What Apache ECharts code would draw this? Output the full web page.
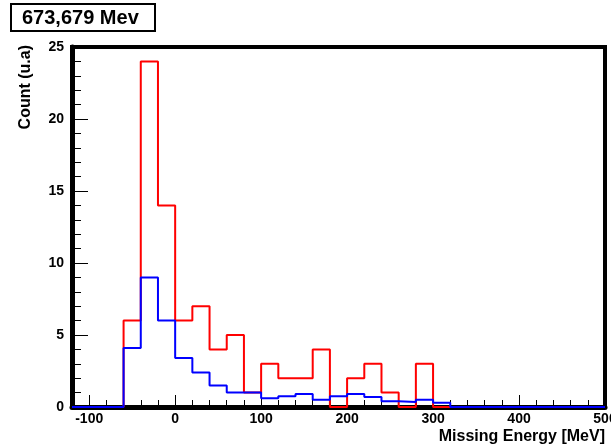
<!DOCTYPE html>
<html>
<head>
<meta charset="utf-8">
<script src="https://cdn.jsdelivr.net/npm/echarts@6/dist/echarts.min.js"></script>
<style>html,body{margin:0;padding:0;background:#fff}#c{width:611px;height:448px}</style>
</head>
<body>
<div id="c"></div>
<script>
// Bin lower edges (MeV), bin width 20
var binLow = [-120,-100,-80,-60,-40,-20,0,20,40,60,80,100,120,140,160,180,200,220,240,260,280,300,320,340,360,380,400,420,440,460,480];
var binHighLast = 500;
var redCounts  = [0,0,0,6,24,14,6,7,4,5,1,3,2,2,4,0,2,3,1,0,3,0,0,0,0,0,0,0,0,0,0];
var blueCounts = [0,0,0,4.1,9,6,3.4,2.4,1.5,1,1,0.6,0.75,0.9,0.5,0.75,0.9,0.7,0.4,0.35,0.5,0.3,0,0,0,0,0,0,0,0,0];
var xMajorTicks = [-100,0,100,200,300,400,500];
var titleText = '673,679 Mev';
var xTitle = 'Missing Energy [MeV]';
var yTitle = 'Count (u.a)';

function steps(vals){
  var d = binLow.map(function(x,i){return [x, vals[i]];});
  d.push([binHighLast, vals[vals.length-1]]);
  return d;
}
var FONT = '"Liberation Sans", Arial, sans-serif';
var chart = echarts.init(document.getElementById('c'), null, {renderer:'canvas'});
chart.setOption({
  animation:false,
  backgroundColor:'#fff',
  grid:{left:72,right:6,top:47,bottom:41,containLabel:false,outerBoundsMode:'none',show:true,borderColor:'#000',borderWidth:4,backgroundColor:'transparent'},
  xAxis:[{
    type:'value',min:-120,max:500,interval:20,
    axisLine:{show:true,onZero:false,lineStyle:{color:'#000',width:5}},
    axisTick:{show:true,inside:true,length:7,lineStyle:{color:'#000',width:1}},
    axisLabel:{show:true,margin:5,color:'#000',fontFamily:FONT,fontWeight:'bold',fontSize:14,
      formatter:function(v){return (v%100===0)?String(v):'';}},
    splitLine:{show:false}
  },{
    type:'value',min:-120,max:500,position:'bottom',
    axisLine:{show:false,onZero:false},
    axisTick:{show:true,inside:true,length:12,customValues:xMajorTicks,lineStyle:{color:'#000',width:1}},
    axisLabel:{show:false},
    splitLine:{show:false}
  }],
  yAxis:{
    type:'value',min:0,max:25,interval:5,
    axisLine:{show:true,onZero:false,lineStyle:{color:'#000',width:5}},
    axisTick:{show:true,inside:true,length:16,lineStyle:{color:'#000',width:1}},
    minorTick:{show:true,splitNumber:5,length:9,lineStyle:{color:'#000',width:1}},
    axisLabel:{margin:8,color:'#000',fontFamily:FONT,fontWeight:'bold',fontSize:14},
    splitLine:{show:false}
  },
  series:[
    {type:'line',step:'end',data:steps(redCounts),showSymbol:false,clip:false,
     lineStyle:{color:'#ff0000',width:2},itemStyle:{color:'#ff0000'}},
    {type:'line',step:'end',data:steps(blueCounts),showSymbol:false,clip:false,
     lineStyle:{color:'#0000ff',width:2},itemStyle:{color:'#0000ff'}}
  ],
  graphic:[
    {type:'rect',shape:{x:11,y:4,width:144,height:27},style:{fill:'#fff',stroke:'#000',lineWidth:2}},
    {type:'text',x:22,y:18,style:{text:titleText,fill:'#000',font:'bold 20px '+FONT,textAlign:'left',textVerticalAlign:'middle'}},
    {type:'text',x:605,y:437,style:{text:xTitle,fill:'#000',font:'bold 16px '+FONT,textAlign:'right',textVerticalAlign:'middle'}},
    {type:'text',x:26,y:45,rotation:Math.PI/2,style:{text:yTitle,fill:'#000',font:'bold 16px '+FONT,textAlign:'right',textVerticalAlign:'middle'}}
  ]
});
</script>
</body>
</html>
